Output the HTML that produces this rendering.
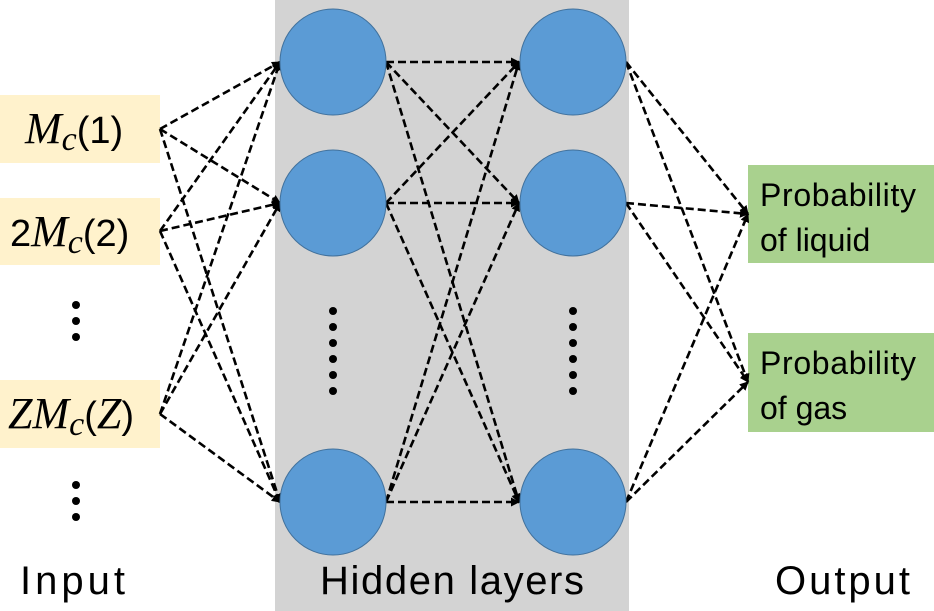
<!DOCTYPE html>
<html><head><meta charset="utf-8"><style>
body{margin:0;background:#fff;width:934px;height:611px;overflow:hidden}
svg{display:block}
</style></head><body>
<svg width="934" height="611" viewBox="0 0 934 611" xmlns="http://www.w3.org/2000/svg">
<defs><marker id="a" markerWidth="9" markerHeight="9" refX="8" refY="4.5" orient="auto" markerUnits="userSpaceOnUse"><path d="M0,0 L9,4.5 L0,9 z" fill="#000"/></marker></defs>
<rect x="275" y="0" width="354" height="611" fill="#d3d3d3"/>
<rect x="0" y="95" width="160" height="68" fill="#fff2cc"/>
<rect x="0" y="198" width="160" height="67" fill="#fff2cc"/>
<rect x="0" y="380" width="160" height="68" fill="#fff2cc"/>
<rect x="748" y="165" width="186" height="98" fill="#a9d18e"/>
<rect x="748" y="333" width="186" height="99" fill="#a9d18e"/>
<g stroke="#000" stroke-width="2.6" stroke-dasharray="8,4" fill="none" marker-end="url(#a)">
<path d="M160,129 L280,62"/><path d="M160,129 L280,203"/><path d="M160,129 L280,502"/>
<path d="M160,231 L280,62"/><path d="M160,231 L280,203"/><path d="M160,231 L280,502"/>
<path d="M160,414 L280,62"/><path d="M160,414 L280,203"/><path d="M160,414 L280,502"/>
<path d="M386,62 L519,62"/><path d="M386,62 L519,203"/><path d="M386,62 L519,502"/>
<path d="M386,203 L519,62"/><path d="M386,203 L519,203"/><path d="M386,203 L519,502"/>
<path d="M386,502 L519,62"/><path d="M386,502 L519,203"/><path d="M386,502 L519,502"/>
<path d="M626,62 L748,214"/><path d="M626,62 L748,382"/>
<path d="M626,203 L748,214"/><path d="M626,203 L748,382"/>
<path d="M626,502 L748,214"/><path d="M626,502 L748,382"/>
</g>
<g fill="#5b9bd5" stroke="#41719c" stroke-width="1">
<ellipse cx="333" cy="62" rx="53" ry="53"/><ellipse cx="333" cy="203" rx="53" ry="53"/><ellipse cx="333" cy="502" rx="53" ry="53"/>
<ellipse cx="573" cy="62" rx="53" ry="53"/><ellipse cx="573" cy="203" rx="53" ry="53"/><ellipse cx="573" cy="502" rx="53" ry="53"/>
</g>
<g fill="#000">
<circle cx="76" cy="305" r="4"/><circle cx="76" cy="321" r="4"/><circle cx="76" cy="337" r="4"/>
<circle cx="76" cy="485" r="4"/><circle cx="76" cy="501" r="4"/><circle cx="76" cy="517" r="4"/>
<circle cx="333" cy="311" r="4"/><circle cx="333" cy="327" r="4"/><circle cx="333" cy="343" r="4"/><circle cx="333" cy="359" r="4"/><circle cx="333" cy="375" r="4"/><circle cx="333" cy="391" r="4"/>
<circle cx="573" cy="311" r="4"/><circle cx="573" cy="327" r="4"/><circle cx="573" cy="343" r="4"/><circle cx="573" cy="359" r="4"/><circle cx="573" cy="375" r="4"/><circle cx="573" cy="391" r="4"/>
</g>
<g font-family="Liberation Serif, serif" font-size="44" fill="#000">
<text x="25" y="143"><tspan font-style="italic">M</tspan><tspan font-style="italic" font-size="34" dy="7">c</tspan><tspan dy="-7" font-family="Liberation Sans, sans-serif" font-size="38">(1)</tspan></text>
<text x="10" y="246"><tspan font-family="Liberation Sans, sans-serif" font-size="38">2</tspan><tspan font-style="italic">M</tspan><tspan font-style="italic" font-size="34" dy="7">c</tspan><tspan dy="-7" font-family="Liberation Sans, sans-serif" font-size="38">(2)</tspan></text>
<text x="8" y="428"><tspan font-style="italic">ZM</tspan><tspan font-style="italic" font-size="34" dy="7">c</tspan><tspan dy="-7" font-family="Liberation Sans, sans-serif" font-size="38">(</tspan><tspan font-style="italic">Z</tspan><tspan font-family="Liberation Sans, sans-serif" font-size="38">)</tspan></text>
</g>
<g font-family="Liberation Sans, sans-serif" font-size="32" fill="#000" textLength="158">
<text x="760" y="206" textLength="156">Probability</text><text x="760" y="251">of liquid</text>
<text x="760" y="374" textLength="156">Probability</text><text x="760" y="419">of gas</text>
</g>
<g font-family="Liberation Sans, sans-serif" font-size="40" fill="#000">
<text x="20" y="594" textLength="105">Input</text>
<text x="320" y="594" textLength="264">Hidden layers</text>
<text x="775" y="594" textLength="135">Output</text>
</g>
</svg>
</body></html>
